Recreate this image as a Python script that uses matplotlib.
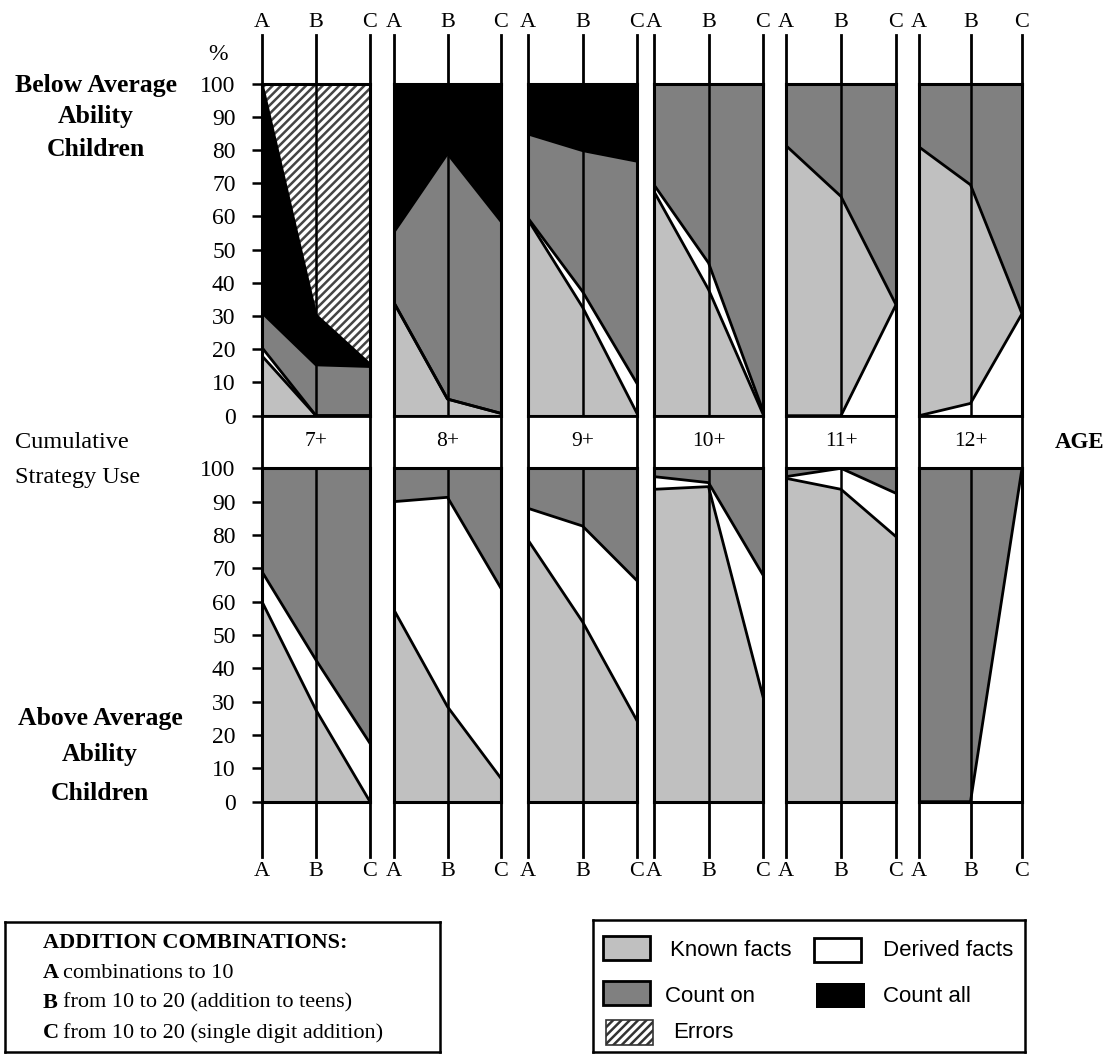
import numpy as np
import matplotlib.pyplot as plt
from matplotlib.patches import Rectangle

plt.rcParams["font.family"] = ["Liberation Serif", "DejaVu Serif"]
plt.rcParams["hatch.linewidth"] = 1.8
plt.rcParams["hatch.color"] = "#444444"

# ---- data: % of strategy use at combination types A, B, C ----
ages = ["7+", "8+", "9+", "10+", "11+", "12+"]
combos = ["A", "B", "C"]
strategies = ["Known facts", "Derived facts", "Count on", "Count all", "Errors"]

# below average ability children
below_known = [[18, 0, 0], [34, 5, 0.7], [59, 32.7, 0.7], [67.5, 38, 0.5], [81.3, 66, 0], [80.9, 65.8, 0]]
below_derived = [[2.5, 0, 0], [0, 0, 0], [0.5, 4.7, 9], [2, 8, 1], [0, 0, 33.4], [0, 3.7, 30.7]]
below_count_on = [[10.5, 15.3, 14.8], [21.3, 73.9, 57.8], [25.3, 42.4, 66.9], [30.5, 54, 98.5],
                  [18.7, 34, 66.6], [19.1, 30.5, 69.3]]
below_count_all = [[69, 15, 0.7], [44.7, 21.1, 41.5], [15.2, 20.2, 23.4], [0, 0, 0], [0, 0, 0], [0, 0, 0]]
below_errors = [[0, 69.7, 84.5], [0, 0, 0], [0, 0, 0], [0, 0, 0], [0, 0, 0], [0, 0, 0]]
# in these panels derived facts are stacked under known facts
below_derived_first = ["11+", "12+"]

# above average ability children
above_known = [[60, 27.5, 0], [57.5, 28.5, 7], [78.5, 54, 24.3], [93.7, 94.5, 31.5], [97, 93.7, 79.5], [0, 0, 0]]
above_derived = [[9, 15, 17.5], [32.5, 62.8, 57], [9.5, 28.7, 42], [3.8, 1.2, 36.5], [0.5, 6.3, 13], [0, 0, 100]]
above_count_on = [[31, 57.5, 82.5], [10, 8.7, 36], [12, 17.3, 33.7], [2.5, 4.3, 32], [2.5, 0, 7.5], [100, 100, 0]]

fills = {"Known facts": "#c0c0c0", "Derived facts": "white", "Count on": "#808080",
         "Count all": "black", "Errors": "white"}

W, H = 1104, 1055
fig = plt.figure(figsize=(W / 100, H / 100), dpi=100)


def box(x0, y0, x1, y1):
    return [x0 / W, 1 - y1 / H, (x1 - x0) / W, (y1 - y0) / H]


def ftext(x, y, s, **kw):
    fig.text(x / W, 1 - y / H, s, **kw)


def stack(ax, layers):
    xs = np.arange(len(combos))
    base = np.zeros(len(combos))
    tops = []
    for name, vals in layers:
        top = base + np.asarray(vals, dtype=float)
        if name == "Errors":
            ax.fill_between(xs, base, top, facecolor="white", edgecolor="#444444",
                            hatch="////", linewidth=0)
        else:
            ax.fill_between(xs, base, top, facecolor=fills[name], linewidth=0)
        tops.append(top)
        base = top
    for top in tops:
        ax.plot(xs, top, color="black", lw=2, zorder=3, solid_joinstyle="round")
    ax.plot([1, 1], [0, 100], color="black", lw=1.8, zorder=3)


def style(ax, first):
    ax.set_xlim(0, 2)
    ax.set_ylim(0, 100)
    ax.set_xticks([])
    for s in ax.spines.values():
        s.set_linewidth(2.2)
        s.set_zorder(4)
    if first:
        ax.set_yticks(range(0, 101, 10))
        ax.tick_params(axis="y", direction="out", length=7, width=1.8, pad=12, labelsize=17)
    else:
        ax.set_yticks([])


panel_x = [(262, 370), (394, 501), (528, 637), (654, 763), (786, 896), (919, 1022)]
TOP = (83.5, 415.7)
BOT = (468.3, 801.7)

for i, age in enumerate(ages):
    x0, x1 = panel_x[i]

    # upper panel: below average
    ax = fig.add_axes(box(x0, TOP[0], x1, TOP[1]))
    vals = {"Known facts": below_known[i], "Derived facts": below_derived[i],
            "Count on": below_count_on[i], "Count all": below_count_all[i], "Errors": below_errors[i]}
    order = strategies
    if age in below_derived_first:
        order = ["Derived facts", "Known facts", "Count on", "Count all", "Errors"]
    stack(ax, [(s, vals[s]) for s in order])
    style(ax, i == 0)
    for k, c in enumerate(combos):
        ax.plot([k, k], [100, 114.5], color="black", lw=2, clip_on=False)
        ax.text(k, 118.5, c, ha="center", va="center", fontsize=16, clip_on=False)

    # age band
    band = fig.add_axes(box(x0, TOP[1], x1, BOT[0]))
    band.set_xticks([])
    band.set_yticks([])
    for s in band.spines.values():
        s.set_linewidth(2)
    band.text(0.5, 0.5, age, ha="center", va="center", fontsize=15.5, transform=band.transAxes)

    # lower panel: above average
    ax = fig.add_axes(box(x0, BOT[0], x1, BOT[1]))
    vals = {"Known facts": above_known[i], "Derived facts": above_derived[i],
            "Count on": above_count_on[i]}
    stack(ax, [(s, vals[s]) for s in strategies[:3]])
    style(ax, i == 0)
    for k, c in enumerate(combos):
        ax.plot([k, k], [0, -16.5], color="black", lw=2, clip_on=False)
        ax.text(k, -20.8, c, ha="center", va="center", fontsize=16, clip_on=False)

# side labels
ftext(218, 55, "%", ha="center", va="center", fontsize=17)
for y, s in zip([85, 117, 150], ["Below Average", "Ability", "Children"]):
    ftext(96, y, s, ha="center", va="center", fontsize=18.5, fontweight="bold")
for y, s in zip([718, 755, 793], ["Above Average", "Ability", "Children"]):
    ftext(100, y, s, ha="center", va="center", fontsize=18.5, fontweight="bold")
ftext(15, 442, "Cumulative", ha="left", va="center", fontsize=17.5)
ftext(15, 477, "Strategy Use", ha="left", va="center", fontsize=17.5)
ftext(1080, 442, "AGE", ha="center", va="center", fontsize=16.5, fontweight="bold")

# legend: addition combinations
lg = fig.add_axes(box(5, 922, 440, 1052))
lg.set_xticks([])
lg.set_yticks([])
for s in lg.spines.values():
    s.set_linewidth(1.8)
ftext(43, 943, "ADDITION COMBINATIONS:", ha="left", va="center", fontsize=16, fontweight="bold")
lines = [("A", "combinations to 10"),
         ("B", "from 10 to 20 (addition to teens)"),
         ("C", "from 10 to 20 (single digit addition)")]
for y, (b, t) in zip([973, 1003, 1033], lines):
    ftext(43, y, b, ha="left", va="center", fontsize=16, fontweight="bold")
    ftext(63, y, t, ha="left", va="center", fontsize=16)

# legend: strategies
lk = fig.add_axes(box(593, 920, 1025, 1052))
lk.set_xlim(593, 1025)
lk.set_ylim(1052, 920)
lk.set_xticks([])
lk.set_yticks([])
for s in lk.spines.values():
    s.set_linewidth(1.8)
keys = [("Known facts", 603, 936, 670, 950),
        ("Derived facts", 814, 938, 883, 950),
        ("Count on", 603, 981, 665, 996),
        ("Count all", 816, 983, 883, 996),
        ("Errors", 606, 1020, 673, 1033)]
for name, sx, sy, tx, ty in keys:
    if name == "Errors":
        r = Rectangle((sx, sy), 47, 25, facecolor="white", edgecolor="#333333", hatch="////", lw=1.2)
    elif name == "Count all":
        r = Rectangle((sx, sy), 49, 25, facecolor="black", edgecolor="black", lw=0)
    else:
        r = Rectangle((sx, sy), 47, 24, facecolor=fills[name], edgecolor="black", lw=2)
    lk.add_patch(r)
    lk.text(tx, ty, name, ha="left", va="center", fontsize=16, family="Liberation Sans")

fig.savefig("out.png", dpi=100)
